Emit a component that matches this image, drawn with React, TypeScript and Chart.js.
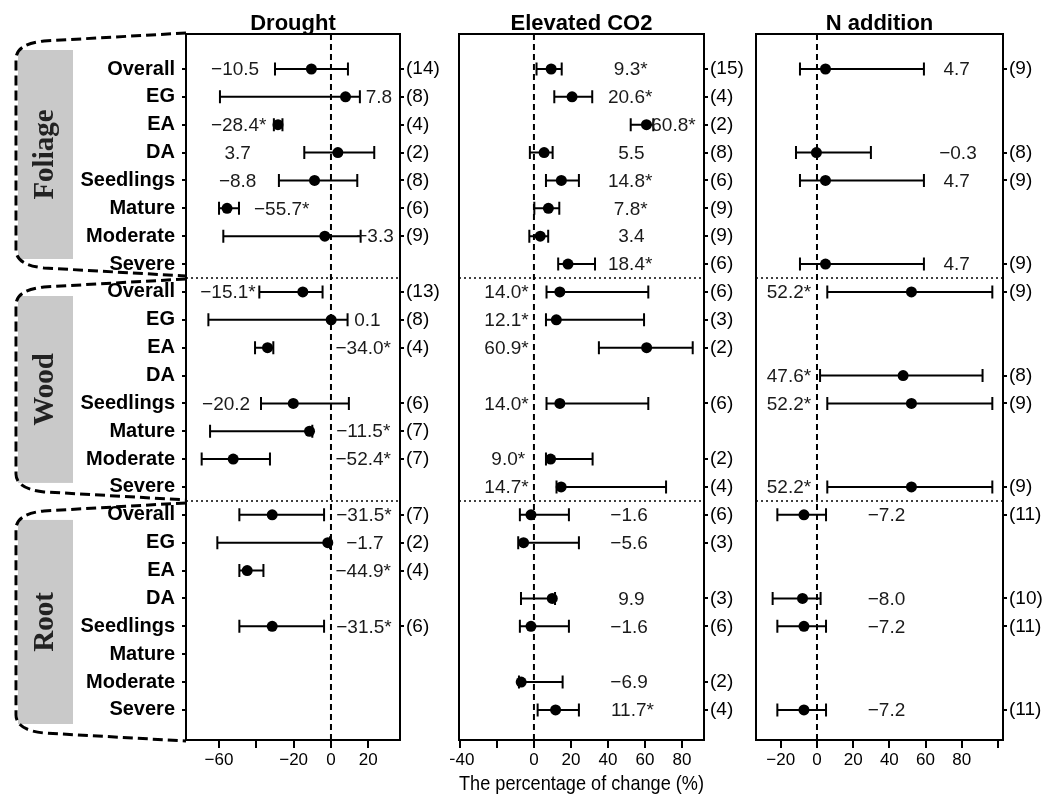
import React, { useEffect, useRef } from 'react';
import { Chart, registerables } from 'chart.js';
Chart.register(...registerables);

const MINUS = '\u2212';
const SANS = "'Liberation Sans', Arial, sans-serif";
const SERIF = "'Liberation Serif', 'Times New Roman', serif";

const rowLabels = ['Overall', 'EG', 'EA', 'DA', 'Seedlings', 'Mature', 'Moderate', 'Severe'];
const sections = ['Foliage', 'Wood', 'Root'];
const categories = sections.flatMap(() => rowLabels);
const sectionDividers = [7.5, 15.5];

const panelTitles = ['Drought', 'Elevated CO2', 'N addition'];
const axisTitle = 'The percentage of change (%)';

// ---- Drought ----
const droughtMean = [-10.5, 7.8, -28.4, 3.7, -8.8, -55.7, -3.3, null, -15.1, 0.1, -34.0, null, -20.2, -11.5, -52.4, null, -31.5, -1.7, -44.9, null, -31.5, null, null, null];
const droughtLow = [-30, -59.5, -30.6, -14.3, -27.9, -60, -57.7, null, -38.4, -65.7, -40.7, null, -37.5, -64.8, -69.3, null, -49.1, -60.9, -49.1, null, -49.1, null, null, null];
const droughtHigh = [9.1, 15.5, -26.0, 23.2, 14.1, -49.3, 15.9, null, -4.5, 8.9, -30.9, null, 9.6, -10.0, -32.7, null, -3.7, -0.5, -36.2, null, -3.7, null, null, null];
const droughtSig = [0, 0, 1, 0, 0, 1, 0, 0, 1, 0, 1, 0, 0, 1, 1, 0, 1, 0, 1, 0, 1, 0, 0, 0];
const droughtN = [14, 8, 4, 2, 8, 6, 9, null, 13, 8, 4, null, 6, 7, 7, null, 7, 2, 4, null, 6, null, null, null];
const droughtLabelX = [-51.4, 25.7, -49.5, -50, -50, -26.4, 23.6, null, -55.2, 19.5, 17.3, null, -56.2, 17.3, 17.3, null, 17.7, 18.2, 17.3, null, 17.7, null, null, null];
const droughtTicks = [-60, -40, -20, 0, 20];
const droughtTickLabels = ['−60', '', '−20', '0', '20'];

// ---- Elevated CO2 ----
const co2Mean = [9.3, 20.6, 60.8, 5.5, 14.8, 7.8, 3.4, 18.4, 14.0, 12.1, 60.9, null, 14.0, null, 9.0, 14.7, -1.6, -5.6, null, 9.9, -1.6, null, -6.9, 11.7];
const co2Low = [1.4, 11, 52.3, -2.2, 6.5, 0.2, -2.5, 13.1, 6.8, 6.5, 35.1, null, 6.8, null, 6.5, 12.2, -7.6, -8.5, null, -7.0, -7.6, null, -8.1, 2];
const co2High = [15, 31.5, 64.5, 10.1, 24.3, 13.7, 7.7, 33, 61.8, 59.5, 85.8, null, 61.8, null, 31.7, 71.4, 18.9, 24.3, null, 11.4, 18.9, null, 15.5, 24.3];
const co2Sig = [1, 1, 1, 0, 1, 1, 0, 1, 1, 1, 1, 0, 1, 0, 1, 1, 0, 0, 0, 0, 0, 0, 0, 1];
const co2N = [15, 4, 2, 8, 6, 9, 9, 6, 6, 3, 2, null, 6, null, 2, 4, 6, 3, null, 3, 6, null, 2, 4];
const co2LabelX = [52.3, 52, 75.4, 52.7, 52, 52.3, 52.7, 52, -14.8, -14.8, -14.8, null, -14.8, null, -13.9, -14.8, 51.4, 51.4, null, 52.7, 51.4, null, 51.4, 53.2];
const co2Ticks = [-40, -20, 0, 20, 40, 60, 80];
const co2TickLabels = ['−40', '', '0', '20', '40', '60', '80'];

// ---- N addition ----
const nMean = [4.7, null, null, -0.3, 4.7, null, null, 4.7, 52.2, null, null, 47.6, 52.2, null, null, 52.2, -7.2, null, null, -8.0, -7.2, null, null, -7.2];
const nLow = [-9.4, null, null, -11.6, -9.4, null, null, -9.4, 5.7, null, null, 1.7, 5.7, null, null, 5.7, -21.9, null, null, -24.5, -21.9, null, null, -21.9];
const nHigh = [59.1, null, null, 29.8, 59.1, null, null, 59.1, 96.9, null, null, 91.5, 96.9, null, null, 96.9, 5, null, null, 2, 5, null, null, 5];
const nSig = [0, 0, 0, 0, 0, 0, 0, 0, 1, 0, 0, 1, 1, 0, 0, 1, 0, 0, 0, 0, 0, 0, 0, 0];
const nN = [9, null, null, 8, 9, null, null, 9, 9, null, null, 8, 9, null, null, 9, 11, null, null, 10, 11, null, null, 11];
const nLabelX = [77.2, null, null, 77.9, 77.2, null, null, 77.2, -15.5, null, null, -15.5, -15.5, null, null, -15.5, 38.4, null, null, 38.4, 38.4, null, null, 38.4];
const nTicks = [-20, 0, 20, 40, 60, 80, 100];
const nTickLabels = ['−20', '0', '20', '40', '60', '80', ''];

// ---- layout ----
const W = 1045;
const H = 798;
const TOP = 34;
const BOTTOM = 740;
const Y_MIN = -1.256;
const Y_MAX = 24.08;

type Panel = {
  title: string;
  mean: (number | null)[];
  low: (number | null)[];
  high: (number | null)[];
  sig: number[];
  n: (number | null)[];
  labelX: (number | null)[];
  xMin: number;
  xMax: number;
  ticks: number[];
  tickLabels: string[];
  left: number;
  width: number;
  areaLeft: number;
  areaRight: number;
  rowAxis: boolean;
  axisTitle: boolean;
  brackets: boolean;
};

const panels: Panel[] = [
  { title: panelTitles[0], mean: droughtMean, low: droughtLow, high: droughtHigh, sig: droughtSig, n: droughtN, labelX: droughtLabelX,
    xMin: -77.7, xMax: 37.0, ticks: droughtTicks, tickLabels: droughtTickLabels,
    left: 0, width: 450, areaLeft: 186, areaRight: 400, rowAxis: true, axisTitle: false, brackets: true },
  { title: panelTitles[1], mean: co2Mean, low: co2Low, high: co2High, sig: co2Sig, n: co2N, labelX: co2LabelX,
    xMin: -40.5, xMax: 91.9, ticks: co2Ticks, tickLabels: co2TickLabels,
    left: 450, width: 310, areaLeft: 459, areaRight: 704, rowAxis: false, axisTitle: true, brackets: false },
  { title: panelTitles[2], mean: nMean, low: nLow, high: nHigh, sig: nSig, n: nN, labelX: nLabelX,
    xMin: -33.7, xMax: 102.8, ticks: nTicks, tickLabels: nTickLabels,
    left: 745, width: 300, areaLeft: 756, areaRight: 1003, rowAxis: false, axisTitle: false, brackets: false },
];

const fmt = (v: number, s: number) => (v < 0 ? MINUS : '') + Math.abs(v).toFixed(1) + (s ? '*' : '');

function makeChart(canvas: HTMLCanvasElement, p: Panel) {
  const points = p.mean
    .map((v, i) => (v == null ? null : { x: v, y: i }))
    .filter((d) => d !== null) as { x: number; y: number }[];
  const nRows = p.n.map((v, i) => (v == null ? -1 : i)).filter((i) => i >= 0);

  const decor = {
    id: 'decor',
    beforeDraw(chart: any) {
      if (!p.brackets) return;
      const { ctx, chartArea } = chart;
      const y = chart.scales.y;
      const bounds = [
        [chartArea.top - 1, y.getPixelForValue(sectionDividers[0]) - 2],
        [y.getPixelForValue(sectionDividers[0]) + 1, y.getPixelForValue(sectionDividers[1]) - 1],
        [y.getPixelForValue(sectionDividers[1]) + 2, chartArea.bottom + 1],
      ];
      const R = chartArea.left;
      const L = 16;
      bounds.forEach(([t, b], k) => {
        ctx.save();
        ctx.fillStyle = '#c9c9c9';
        ctx.fillRect(18, t + 17, 55, b - t - 34);
        ctx.restore();
        ctx.save();
        ctx.translate(46, (t + b) / 2);
        ctx.rotate(-Math.PI / 2);
        ctx.fillStyle = '#222';
        ctx.font = `bold 29px ${SERIF}`;
        ctx.textAlign = 'center';
        ctx.textBaseline = 'middle';
        ctx.fillText(sections[k], 0, 0);
        ctx.restore();
        ctx.save();
        ctx.strokeStyle = '#000';
        ctx.lineWidth = 3;
        ctx.setLineDash([10, 5]);
        ctx.beginPath();
        ctx.moveTo(R, t);
        ctx.lineTo(L + 28, t + 8);
        ctx.quadraticCurveTo(L, t + 11, L, t + 26);
        ctx.lineTo(L, b - 26);
        ctx.quadraticCurveTo(L, b - 11, L + 28, b - 8);
        ctx.lineTo(R, b);
        ctx.stroke();
        ctx.restore();
      });
    },
    beforeDatasetsDraw(chart: any) {
      const { ctx, chartArea } = chart;
      const { left, right, top, bottom } = chartArea;
      const xs = chart.scales.x;
      const ys = chart.scales.y;
      ctx.save();
      ctx.strokeStyle = '#000';
      const x0 = xs.getPixelForValue(0);
      ctx.lineWidth = 2;
      ctx.setLineDash([6, 4]);
      ctx.beginPath();
      ctx.moveTo(x0, top);
      ctx.lineTo(x0, bottom);
      ctx.stroke();
      ctx.lineWidth = 1.5;
      ctx.setLineDash([2, 3]);
      sectionDividers.forEach((d) => {
        const yy = ys.getPixelForValue(d);
        ctx.beginPath();
        ctx.moveTo(left, yy);
        ctx.lineTo(right, yy);
        ctx.stroke();
      });
      ctx.setLineDash([]);
      ctx.lineWidth = 2;
      p.mean.forEach((v, i) => {
        const lo = p.low[i];
        const hi = p.high[i];
        if (v == null || lo == null || hi == null) return;
        const yy = ys.getPixelForValue(i);
        const a = xs.getPixelForValue(lo);
        const b = xs.getPixelForValue(hi);
        ctx.beginPath();
        ctx.moveTo(a, yy);
        ctx.lineTo(b, yy);
        ctx.moveTo(a, yy - 6.5);
        ctx.lineTo(a, yy + 6.5);
        ctx.moveTo(b, yy - 6.5);
        ctx.lineTo(b, yy + 6.5);
        ctx.stroke();
      });
      ctx.fillStyle = '#1a1a1a';
      ctx.font = `19px ${SANS}`;
      ctx.textAlign = 'center';
      ctx.textBaseline = 'middle';
      p.mean.forEach((v, i) => {
        const lx = p.labelX[i];
        if (v == null || lx == null) return;
        ctx.fillText(fmt(v, p.sig[i]), xs.getPixelForValue(lx), ys.getPixelForValue(i) + 1);
      });
      ctx.restore();
    },
    afterDraw(chart: any) {
      const { ctx, chartArea } = chart;
      const { left, right, top, bottom } = chartArea;
      ctx.save();
      ctx.strokeStyle = '#000';
      ctx.lineWidth = 2;
      ctx.strokeRect(left, top, right - left, bottom - top);
      ctx.fillStyle = '#000';
      ctx.font = `bold 22px ${SANS}`;
      ctx.textAlign = 'center';
      ctx.textBaseline = 'middle';
      ctx.fillText(p.title, (left + right) / 2, 24);
      ctx.restore();
    },
  };

  const tickGrid = { drawOnChartArea: false, drawTicks: true, tickWidth: 2, tickColor: '#000', lineWidth: 2, color: '#000' };

  return new Chart(canvas, {
    type: 'scatter',
    data: {
      datasets: [
        {
          data: points,
          pointRadius: 5.5,
          pointBackgroundColor: '#000',
          pointBorderWidth: 0,
          showLine: false,
          yAxisID: 'y',
          xAxisID: 'x',
        },
      ],
    },
    options: {
      animation: false,
      responsive: false,
      events: [],
      layout: { padding: { top: TOP, left: 0, right: 0, bottom: 0 } },
      plugins: { legend: { display: false }, tooltip: { enabled: false }, title: { display: false } },
      scales: {
        x: {
          type: 'linear',
          position: 'bottom',
          min: p.xMin,
          max: p.xMax,
          afterBuildTicks: (s: any) => {
            s.ticks = p.ticks.map((v) => ({ value: v }));
          },
          ticks: {
            autoSkip: false,
            maxRotation: 0,
            padding: 2,
            color: '#000',
            font: { family: SANS, size: 17 },
            callback: (v: any) => p.tickLabels[p.ticks.indexOf(Number(v))] ?? '',
          },
          grid: { ...tickGrid, tickLength: 8 },
          border: { display: false },
          title: {
            display: p.axisTitle,
            text: axisTitle,
            color: '#000',
            font: { family: SANS, size: 21 },
            padding: { top: 0, bottom: 1 },
          },
          afterFit: (s: any) => {
            s.height = H - BOTTOM;
            s.paddingLeft = 0;
            s.paddingRight = 0;
          },
        },
        y: {
          type: 'linear',
          position: 'left',
          reverse: true,
          min: Y_MIN,
          max: Y_MAX,
          display: p.rowAxis,
          afterBuildTicks: (s: any) => {
            s.ticks = categories.map((_, i) => ({ value: i }));
          },
          ticks: {
            autoSkip: false,
            padding: 7,
            color: '#000',
            font: { family: SANS, size: 20, weight: 'bold' },
            callback: (v: any) => categories[Number(v)] ?? '',
          },
          grid: { ...tickGrid, tickLength: 4 },
          border: { display: false },
          afterFit: (s: any) => {
            s.width = p.areaLeft - p.left;
            s.paddingTop = 0;
            s.paddingBottom = 0;
          },
        },
        y2: {
          type: 'linear',
          position: 'right',
          reverse: true,
          min: Y_MIN,
          max: Y_MAX,
          afterBuildTicks: (s: any) => {
            s.ticks = nRows.map((i) => ({ value: i }));
          },
          ticks: {
            autoSkip: false,
            padding: 2,
            color: '#000',
            font: { family: SANS, size: 19 },
            callback: (v: any) => {
              const nv = p.n[Number(v)];
              return nv == null ? '' : `(${nv})`;
            },
          },
          grid: { ...tickGrid, tickLength: 4 },
          border: { display: false },
          afterFit: (s: any) => {
            s.width = p.left + p.width - p.areaRight;
            s.paddingTop = 0;
            s.paddingBottom = 0;
          },
        },
      },
    },
    plugins: [decor],
  } as any);
}

function PanelCanvas({ p }: { p: Panel }) {
  const ref = useRef<HTMLCanvasElement | null>(null);
  useEffect(() => {
    if (!ref.current) return;
    const c = makeChart(ref.current, p);
    return () => c.destroy();
  }, [p]);
  return (
    <canvas
      ref={ref}
      width={p.width}
      height={H}
      style={{ position: 'absolute', left: p.left, top: 0, width: p.width, height: H }}
    />
  );
}

export default function App() {
  return (
    <div style={{ position: 'absolute', left: 0, top: 0, width: W, height: H, background: '#fff', overflow: 'hidden' }}>
      {panels.map((p, i) => (
        <PanelCanvas key={i} p={p} />
      ))}
    </div>
  );
}
